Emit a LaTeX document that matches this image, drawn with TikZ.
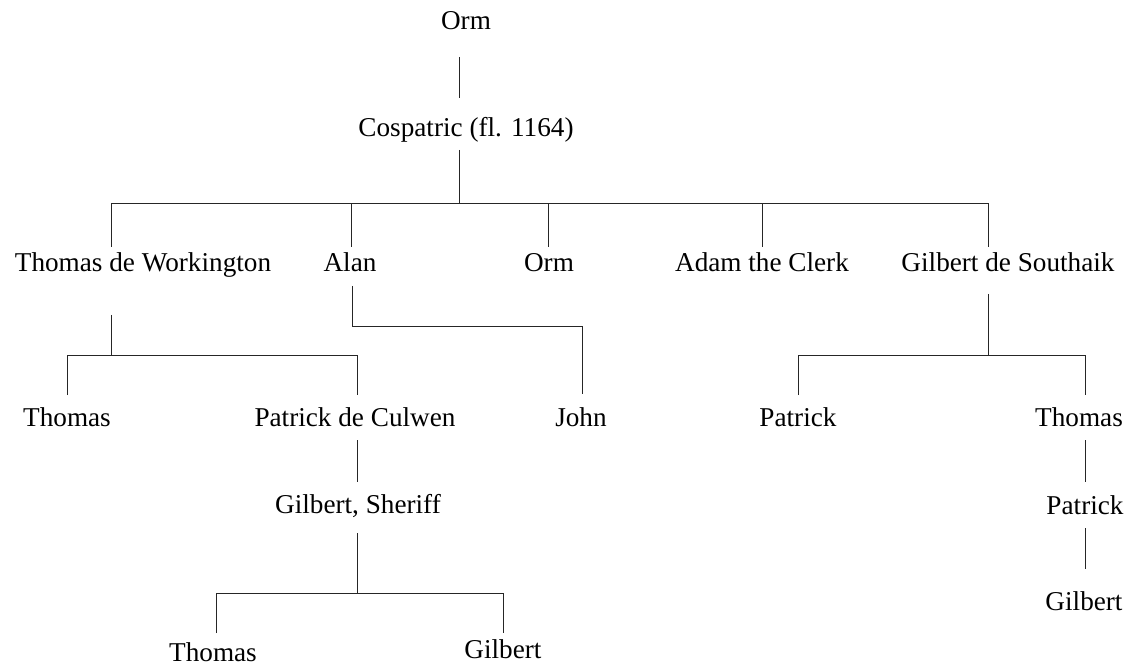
\documentclass[tikz,border=0pt]{standalone}
\usepackage{fontspec}
\setmainfont{Liberation Serif}
\begin{document}
\begin{tikzpicture}[x=1pt,y=-1pt,
  person/.style={anchor=base,inner sep=0pt,font=\fontsize{27.2}{30}\selectfont},
  link/.style={draw=black!85,line width=1pt}]
\useasboundingbox (0,0) rectangle (1127,668);

% generation 1 and 2
\node[person] (orm1) at (466,30) {Orm};
\node[person] (cos) at (466,137) {Cospatric (fl. 1164)};

% children of Cospatric
\node[person] (tdw)  at (143,272) {Thomas de Workington};
\node[person] (alan) at (350,272) {Alan};
\node[person] (orm2) at (549,272) {Orm};
\node[person] (adam) at (762,272) {Adam the Clerk};
\node[person] (gds)  at (1008,272) {Gilbert de Southaik};

% grandchildren
\node[person] (thomasA)  at (67,426)   {Thomas};
\node[person] (pdc)      at (355,426)  {Patrick de Culwen};
\node[person] (john)     at (581,426)  {John};
\node[person] (patrickA) at (798,426)  {Patrick};
\node[person] (thomasB)  at (1079,426) {Thomas};

% later generations
\node[person] (gsher)    at (358,513)  {Gilbert, Sheriff};
\node[person] (patrickB) at (1085,514) {Patrick};
\node[person] (gilbertB) at (1084,610) {Gilbert};
\node[person] (thomasC)  at (213,661)  {Thomas};
\node[person] (gilbertC) at (503,658)  {Gilbert};

% junction points
\coordinate (c1a) at (459,57);   \coordinate (c1b) at (459,98);
\coordinate (c2a) at (459,150);  \coordinate (c2b) at (459,204);
\coordinate (r2l) at (111,204);  \coordinate (r2r) at (988,204);
\coordinate (d1) at (111,247);   \coordinate (d2) at (351,247);
\coordinate (d3) at (548,247);   \coordinate (d4) at (762,247);
\coordinate (d5) at (988,247);
\coordinate (d2t) at (351,204);  \coordinate (d3t) at (548,204);
\coordinate (d4t) at (762,204);

\coordinate (t1a) at (111,315);  \coordinate (t1b) at (111,355);
\coordinate (t1l) at (67,355);   \coordinate (t1r) at (357,355);
\coordinate (t1ld) at (67,395);  \coordinate (t1rd) at (357,395);

\coordinate (a1a) at (352,286);  \coordinate (a1b) at (352,326);
\coordinate (a1c) at (582,326);  \coordinate (a1d) at (582,394);

\coordinate (g1a) at (988,294);  \coordinate (g1b) at (988,355);
\coordinate (g1l) at (798,355);  \coordinate (g1r) at (1085,355);
\coordinate (g1ld) at (798,395); \coordinate (g1rd) at (1085,395);

\coordinate (p1a) at (357,440);  \coordinate (p1b) at (357,482);
\coordinate (s1a) at (357,533);  \coordinate (s1b) at (357,593);
\coordinate (s1l) at (216,593);  \coordinate (s1r) at (503,593);
\coordinate (s1ld) at (216,633); \coordinate (s1rd) at (503,633);

\coordinate (k1a) at (1085,440); \coordinate (k1b) at (1085,482);
\coordinate (k2a) at (1085,528); \coordinate (k2b) at (1085,569);

% connectors
\draw[link] (c1a) -- (c1b);
\draw[link] (c2a) -- (c2b);
\draw[link] (d1) -- (r2l) -- (r2r) -- (d5);
\draw[link] (d2t) -- (d2);
\draw[link] (d3t) -- (d3);
\draw[link] (d4t) -- (d4);

\draw[link] (t1a) -- (t1b);
\draw[link] (t1ld) -- (t1l) -- (t1r) -- (t1rd);

\draw[link] (a1a) -- (a1b) -- (a1c) -- (a1d);

\draw[link] (g1a) -- (g1b);
\draw[link] (g1ld) -- (g1l) -- (g1r) -- (g1rd);

\draw[link] (p1a) -- (p1b);
\draw[link] (s1a) -- (s1b);
\draw[link] (s1ld) -- (s1l) -- (s1r) -- (s1rd);

\draw[link] (k1a) -- (k1b);
\draw[link] (k2a) -- (k2b);
\end{tikzpicture}
\end{document}
